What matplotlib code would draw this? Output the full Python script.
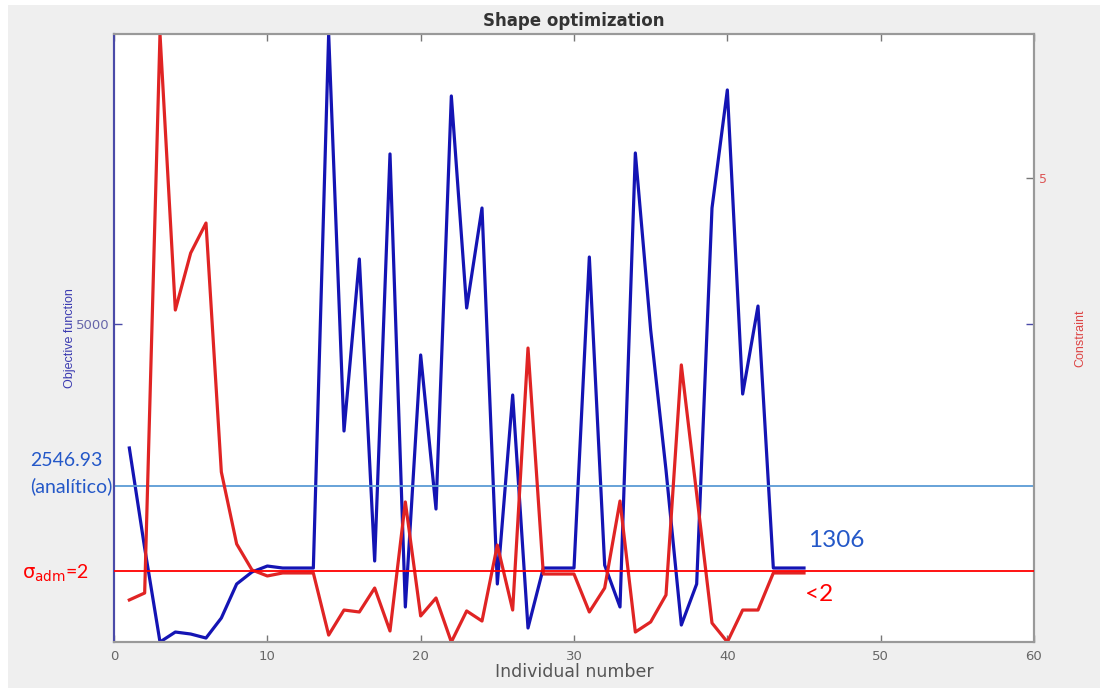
import matplotlib
matplotlib.use("Agg")
import matplotlib.pyplot as plt
from matplotlib.patches import Rectangle

# individuo, funcion objetivo y restriccion
individuo = list(range(1, 46))
objetivo = [3123, 1609, 186, 337, 307, 246, 549, 1064, 1246, 1336,
            1306, 1306, 1306, 9390, 3380, 5984, 1412, 7574, 716, 4531,
            2199, 8452, 5242, 6756, 1064, 3925, 398, 1306, 1306, 1306,
            6014, 1350, 716, 7589, 4909, 2790, 443, 1064, 6756, 8543,
            3940, 5272, 1306, 1306, 1306]
restriccion = [1.779, 1.832, 6.099, 3.992, 4.427, 4.656, 2.756, 2.206, 2.008, 1.962,
               1.985, 1.985, 1.985, 1.511, 1.702, 1.687, 1.870, 1.542, 2.527, 1.657,
               1.794, 1.458, 1.695, 1.618, 2.198, 1.702, 3.702, 1.977, 1.977, 1.977,
               1.687, 1.870, 2.534, 1.534, 1.611, 1.817, 3.573, 2.588, 1.603, 1.458,
               1.702, 1.702, 1.985, 1.985, 1.985]

analitico = 2546.93
sigma_adm = 2
x_ticks = [0, 10, 20, 30, 40, 50, 60]

W, H = 1100, 688
fig = plt.figure(figsize=(W / 100, H / 100), dpi=100, facecolor="white")
fig.patches.append(Rectangle((8 / W, 0), 1 - 8 / W, 1 - 5 / H, transform=fig.transFigure,
                             facecolor="#efefef", edgecolor="none", zorder=-10))

ax = fig.add_axes([114 / W, 1 - 642 / H, 920 / W, 608 / H])
ax2 = ax.twinx()

ax.plot(individuo, objetivo, color="#1414b4", lw=2.3)
ax2.plot(individuo, restriccion, color="#e02424", lw=2.3)

ax.set_xlim(0, 60)
ax.set_ylim(min(objetivo), max(objetivo))
ax2.set_ylim(min(restriccion), max(restriccion))
ax.set_xticks(x_ticks)
ax.set_yticks([5000])
ax2.set_yticks([5])

# lineas de referencia
ax.axhline(analitico, color="#5b9bd5", lw=1.3, zorder=5)
ax2.axhline(sigma_adm, color="#ff0000", lw=1.3, zorder=5)

for a in (ax, ax2):
    for s in a.spines.values():
        s.set_color("#999999")
        s.set_linewidth(1.5)
ax2.spines["left"].set_color("#4a4aa8")
ax.spines["left"].set_color("#4a4aa8")

ax.tick_params(axis="x", direction="in", top=True, length=5, width=1,
               colors="#777777", labelsize=9.5, labelcolor="#666666", pad=6)
ax.tick_params(axis="y", direction="in", right=True, length=6, width=1,
               colors="#4a4aa8", labelsize=9.5, labelcolor="#6666aa")
ax2.tick_params(axis="y", direction="in", length=6, width=1,
                colors="#777777", labelsize=9, labelcolor="#dd5555")

ax.set_title("Shape optimization", fontsize=12, fontweight="bold",
             family="DejaVu Sans", color="#333333", pad=6)
ax.set_xlabel("Individual number", fontsize=12.5, color="#555555",
              family="DejaVu Sans", labelpad=0)
ax.set_ylabel("Objective function", fontsize=9, color="#3a3ab0",
              family="Liberation Sans", labelpad=0)
ax2.set_ylabel("Constraint", fontsize=9, color="#dd4444",
               family="Liberation Sans", labelpad=20)

# anotaciones
fig.text(30 / W, 1 - 466 / H, "2546.93", fontsize=14, color="#2458c8", family="Lato")
fig.text(30 / W, 1 - 492 / H, "(analítico)", fontsize=14, color="#2458c8", family="Lato")
fig.text(22 / W, 1 - 579 / H, r"$\mathrm{\sigma}_{\rm adm}$=2", fontsize=14,
         color="#ff0000", family="Lato")
fig.text(808 / W, 1 - 547 / H, "1306", fontsize=17.5, color="#2458c8", family="Lato")
fig.text(805 / W, 1 - 601 / H, "<2", fontsize=17.5, color="#ff0000", family="Lato")

fig.savefig("out.png", dpi=100, facecolor=fig.get_facecolor())
